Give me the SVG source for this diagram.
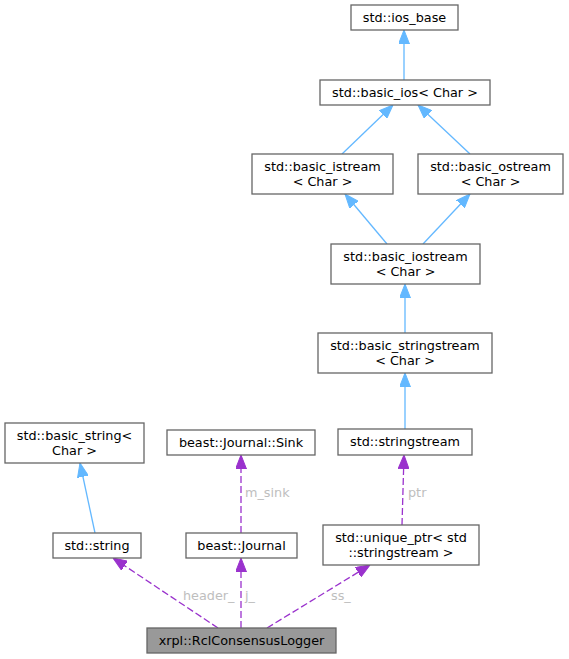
<svg xmlns="http://www.w3.org/2000/svg" width="569" height="659" viewBox="0 0 569 659">
<style>
.n rect{fill:#ffffff;stroke:#666666;stroke-width:1.3}
.main rect{fill:#999999;stroke:#666666;stroke-width:1.3}
text{font-family:"DejaVu Sans",sans-serif;font-size:12.8px;fill:#000000;text-anchor:middle}
.lbl{fill:#bebebe;text-anchor:start;font-size:12.8px}
.inh{stroke:#63b8ff;stroke-width:1.3;fill:none}
.use{stroke:#9a32cd;stroke-width:1.3;fill:none;stroke-dasharray:7,3}
</style>
<defs>
<marker id="ab" viewBox="0 0 14 11" refX="14" refY="5.5" markerWidth="14" markerHeight="11" markerUnits="userSpaceOnUse" orient="auto">
<path d="M0,0 L14,5.5 L0,11 z" fill="#63b8ff" stroke="#63b8ff"/>
</marker>
<marker id="ap" viewBox="0 0 14 11" refX="14" refY="5.5" markerWidth="14" markerHeight="11" markerUnits="userSpaceOnUse" orient="auto">
<path d="M0,0 L14,5.5 L0,11 z" fill="#9a32cd" stroke="#9a32cd"/>
</marker>
</defs>
<rect width="569" height="659" fill="#ffffff"/>
<g id="edges">
<line class="inh" x1="404" y1="80" x2="404" y2="30" marker-end="url(#ab)"/>
<line class="inh" x1="342" y1="154" x2="393" y2="105" marker-end="url(#ab)"/>
<line class="inh" x1="470" y1="154" x2="418" y2="105" marker-end="url(#ab)"/>
<line class="inh" x1="387" y1="244" x2="345" y2="194" marker-end="url(#ab)"/>
<line class="inh" x1="423" y1="244" x2="470" y2="194" marker-end="url(#ab)"/>
<line class="inh" x1="405" y1="333" x2="405" y2="284" marker-end="url(#ab)"/>
<line class="inh" x1="405" y1="429" x2="405" y2="373" marker-end="url(#ab)"/>
<line class="inh" x1="95" y1="533" x2="80" y2="463" marker-end="url(#ab)"/>
<line class="use" x1="241" y1="533" x2="241" y2="455" marker-end="url(#ap)"/>
<line class="use" x1="402" y1="525" x2="404" y2="455" marker-end="url(#ap)"/>
<line class="use" x1="218" y1="628" x2="113" y2="558" marker-end="url(#ap)"/>
<line class="use" x1="241" y1="628" x2="241" y2="558" marker-end="url(#ap)"/>
<line class="use" x1="267" y1="628" x2="370" y2="565" marker-end="url(#ap)"/>
<text class="lbl" x="245" y="497">m_sink</text>
<text class="lbl" x="408" y="497">ptr</text>
<text class="lbl" x="183" y="600">header_</text>
<text class="lbl" x="245" y="600">j_</text>
<text class="lbl" x="331" y="600">ss_</text>
</g>
<g id="ios_base" class="n"><rect x="351" y="5" width="107" height="25"/><text x="404.5" y="21.5">std::ios_base</text></g>
<g id="basic_ios" class="n"><rect x="320" y="80" width="170" height="25"/><text x="405" y="96.5">std::basic_ios&lt; Char &gt;</text></g>
<g id="basic_istream" class="n"><rect x="252" y="154" width="141" height="40"/><text x="322.5" y="170.5">std::basic_istream</text><text x="322.5" y="185.5">&lt; Char &gt;</text></g>
<g id="basic_ostream" class="n"><rect x="418" y="154" width="145" height="40"/><text x="490.5" y="170.5">std::basic_ostream</text><text x="490.5" y="185.5">&lt; Char &gt;</text></g>
<g id="basic_iostream" class="n"><rect x="331" y="244" width="149" height="40"/><text x="405.5" y="260.5">std::basic_iostream</text><text x="405.5" y="275.5">&lt; Char &gt;</text></g>
<g id="basic_stringstream" class="n"><rect x="318" y="333" width="174" height="40"/><text x="405" y="349.5">std::basic_stringstream</text><text x="405" y="364.5">&lt; Char &gt;</text></g>
<g id="stringstream" class="n"><rect x="338" y="429" width="134" height="26"/><text x="405" y="446">std::stringstream</text></g>
<g id="unique_ptr" class="n"><rect x="323" y="525" width="156" height="40"/><text x="401" y="541.5">std::unique_ptr&lt; std</text><text x="401" y="556.5">::stringstream &gt;</text></g>
<g id="basic_string" class="n"><rect x="5" y="423" width="139" height="40"/><text x="74.5" y="439.5">std::basic_string&lt;</text><text x="74.5" y="454.5">Char &gt;</text></g>
<g id="sink" class="n"><rect x="167" y="430" width="148" height="25"/><text x="241" y="446.5">beast::Journal::Sink</text></g>
<g id="string" class="n"><rect x="53" y="533" width="88" height="25"/><text x="97" y="549.5">std::string</text></g>
<g id="journal" class="n"><rect x="186" y="533" width="111" height="25"/><text x="241.5" y="549.5">beast::Journal</text></g>
<g id="logger" class="main"><rect x="147" y="628" width="189" height="25"/><text x="241.5" y="644.5">xrpl::RclConsensusLogger</text></g>
</svg>
